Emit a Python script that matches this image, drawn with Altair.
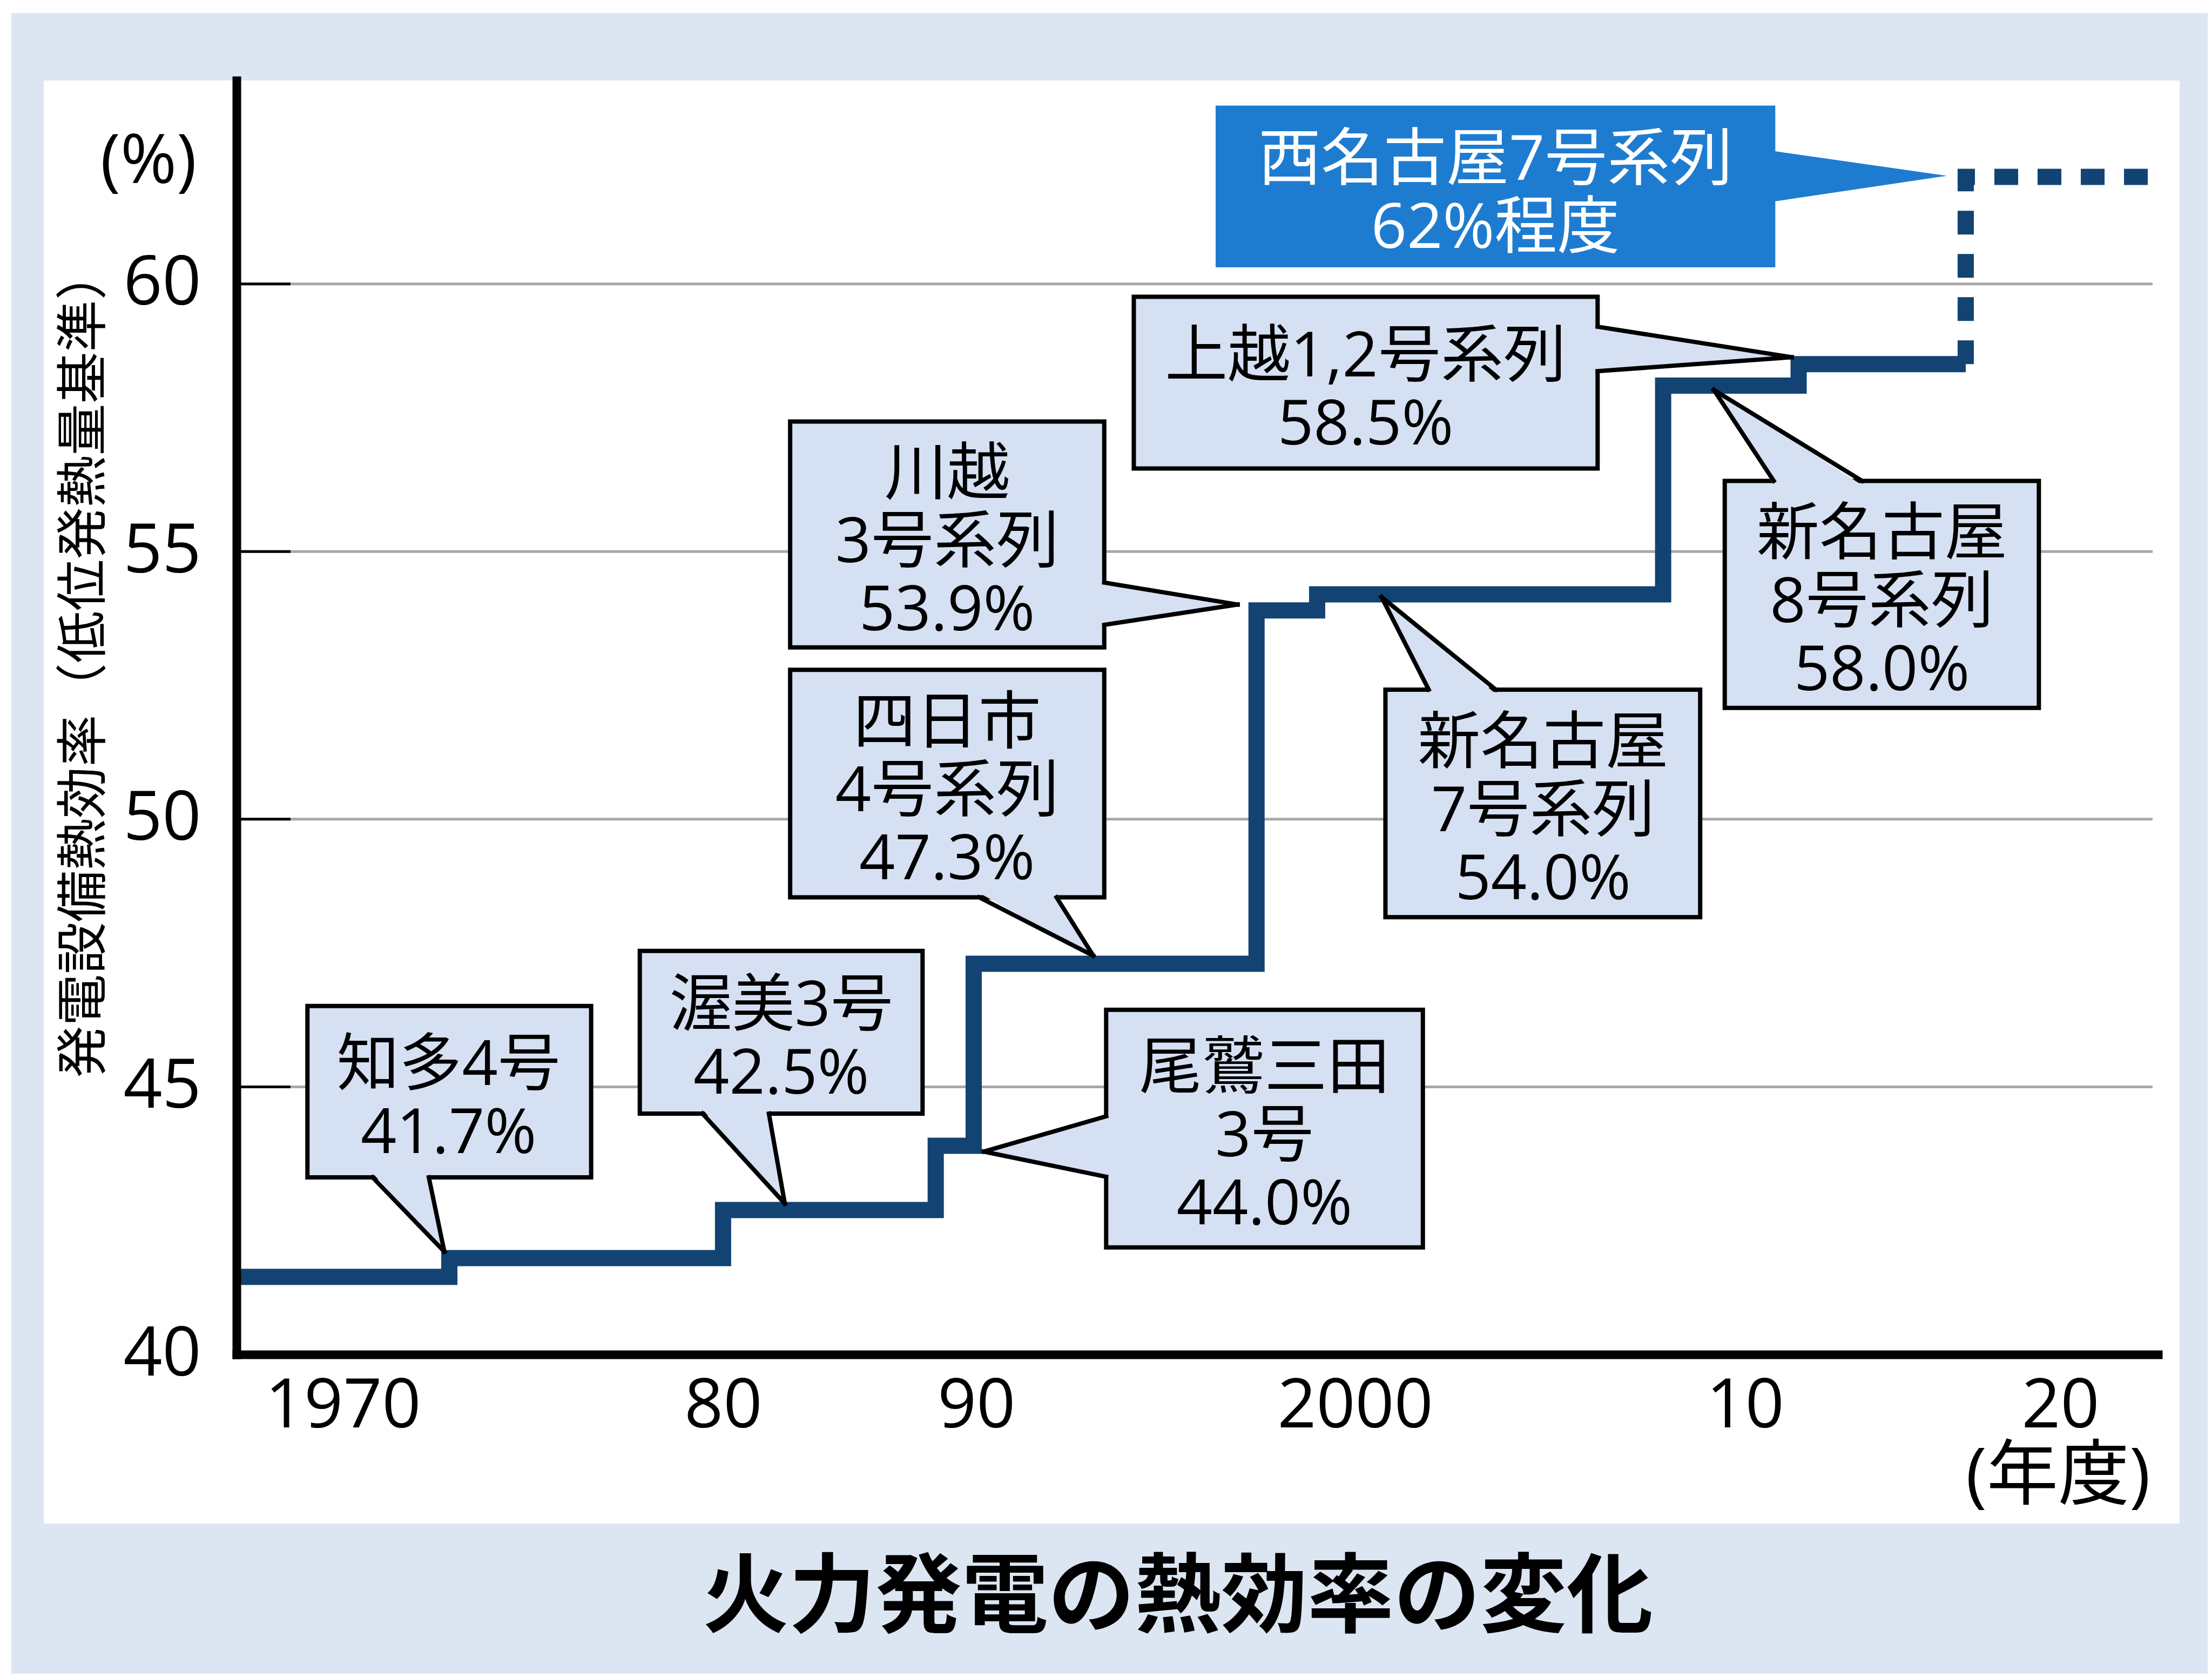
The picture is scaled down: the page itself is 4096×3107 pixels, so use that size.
import altair as alt
import pandas as pd

# ---------------- data ----------------
# solid step line: fiscal year of each step and thermal efficiency (%)
STEP_YEARS = [1967.0, 1972.8, 1980.0, 1988.4, 1989.9, 1997.4, 1999.0, 2007.9, 2011.7, 2017.0]
STEP_EFFICIENCY = [41.45, 41.8, 42.7, 43.9, 47.3, 53.9, 54.2, 58.1, 58.5, 58.5]
# planned (dotted) part
PLAN_YEARS = [2017.0, 2017.0, 2023.0]
PLAN_EFFICIENCY = [58.5, 62.0, 62.0]

PLANT_NAMES = [["知多4号"], ["渥美3号"], ["尾鷲三田", "3号"], ["四日市", "4号系列"],
               ["川越", "3号系列"], ["新名古屋", "7号系列"], ["新名古屋", "8号系列"],
               ["上越1,2号系列"]]
PLANT_EFFICIENCY = [41.7, 42.5, 44.0, 47.3, 53.9, 54.0, 58.0, 58.5]
TARGET_NAME = "西名古屋7号系列"
TARGET_EFFICIENCY = 62
TARGET_SUFFIX = "程度"

X_TICKS = [1970, 1980, 1990, 2000, 2010, 2020]
X_TICK_LABELS = ["1970", "80", "90", "2000", "10", "20"]
Y_TICKS = [40, 45, 50, 55, 60]
GRID_VALUES = [45, 50, 55, 60]

Y_TITLE = "発電設備熱効率（低位発熱量基準）"
Y_UNIT = "(%)"
X_UNIT = "(年度)"
TITLE = "火力発電の熱効率の変化"

# ---------------- callout layout (in year / % units) ----------------
BOXES = [
    (1969.00, 1976.53, 43.31, 46.51),
    (1977.81, 1987.88, 44.50, 47.54),
    (1993.43, 2001.74, 42.00, 46.44),
    (1982.65, 1993.38, 48.54, 52.79),
    (1982.65, 1993.38, 53.21, 57.43),
    (2000.78, 2008.85, 48.17, 52.42),
    (2009.48, 2019.32, 52.08, 56.32),
    (1994.16, 2006.22, 56.55, 59.76),
]
LABEL_X = [1972.78, 1982.30, 1997.61, 1988.85, 1988.85, 2004.82, 2014.34, 2000.27]
POINTERS = [
    ("bottom", 1970.78, 1972.26, 1972.67, 41.92),
    ("bottom", 1979.46, 1981.81, 1982.44, 42.82),
    ("left", 43.32, 44.45, 1990.20, 43.79),
    ("bottom", 1990.08, 1992.12, 1993.09, 47.45),
    ("right", 53.63, 54.42, 1996.90, 54.01),
    ("top", 2001.89, 2003.61, 2000.68, 54.15),
    ("top", 2010.91, 2013.71, 2009.20, 58.02),
    ("right", 58.37, 59.20, 2011.48, 58.63),
]
TARGET_BOX = (1996.32, 2010.96, 60.31, 63.33)
TARGET_LABEL_X = 2003.60
TARGET_POINTER = ("right", 61.53, 62.49, 2016.40, 62.02)

# ---------------- styles ----------------
NAVY = "#124372"
BOX_FILL = "#d6e0f3"
TARGET_BLUE = "#1e7cd0"
PANEL_BG = "#dce6f2"
GRID_GRAY = "#a8a8a8"
JP = "Noto Sans CJK JP"
MIX = "'Open Sans', 'Noto Sans CJK JP', sans-serif"
NUM = "Open Sans"
CALLOUT_SIZE = 116
LINE_H = 126
TEXT_DY = 16

W, H = 3558, 2359
PAD = {"left": 430, "top": 141, "right": 92, "bottom": 591}
IN_Y = 0.08   # % : how far pointer fill reaches into its box
IN_X = 0.15   # years

XSCALE = alt.Scale(domain=[1967, 1970, 1980, 1990, 2000, 2010, 2020, 2023],
                   range=[0, 196.9, 900.9, 1369.7, 2071.1, 2793.3, 3377.1, W],
                   nice=False, zero=False)
YSCALE = alt.Scale(domain=[40, 63.8], nice=False, zero=False)

label_expr = "''"
for v, lab in reversed(list(zip(X_TICKS, X_TICK_LABELS))):
    label_expr = f"datum.value == {v} ? '{lab}' : {label_expr}"

XAXIS = alt.Axis(values=X_TICKS, labelExpr=label_expr, title=None,
                 labelFont=NUM, labelFontSize=126, labelColor="black",
                 labelPadding=34, labelLimit=2000, ticks=False, tickSize=0,
                 domainColor="black", domainWidth=16, domainCap="square",
                 grid=False, zindex=1, labelFlush=False, labelOverlap=False)
YAXIS = alt.Axis(values=Y_TICKS, title=Y_TITLE, titleFont=JP, titleFontSize=96,
                 titleFontWeight="normal", titleColor="black", titleAngle=270,
                 titleX=-282, titleY=1078, titleAlign="center", titleBaseline="middle",
                 titleLimit=4000,
                 labelFont=NUM, labelFontSize=126, labelColor="black",
                 labelPadding=66, labelLimit=2000, ticks=False, tickSize=0,
                 domainColor="black", domainWidth=16, domainCap="square",
                 grid=False, zindex=1, labelOverlap=False)


def X(field, **kw):
    return alt.X(f"{field}:Q", scale=XSCALE, axis=XAXIS, **kw)


def Y(field, **kw):
    return alt.Y(f"{field}:Q", scale=YSCALE, axis=YAXIS, **kw)


# ---------------- tables built from the lists ----------------
step_df = pd.DataFrame({"year": STEP_YEARS, "eff": STEP_EFFICIENCY})
plan_df = pd.DataFrame({"year": PLAN_YEARS, "eff": PLAN_EFFICIENCY,
                        "i": list(range(len(PLAN_YEARS)))})
grid_df = pd.DataFrame({"v": GRID_VALUES})

box_rows, text_rows, rule_rows, area_h, area_v = [], [], [], [], []
for i, (names, eff) in enumerate(zip(PLANT_NAMES, PLANT_EFFICIENCY)):
    x0, x1, y0, y1 = BOXES[i]
    box_rows.append({"x0": x0, "x1": x1, "y0": y0, "y1": y1})
    lines = names + [f"{eff:.1f}%"]
    text_rows.append({"cx": LABEL_X[i], "cy": (y0 + y1) / 2,
                      "label": "\n".join(lines), "n": len(lines)})
    edge, b0, b1, tx, ty = POINTERS[i]
    if edge in ("bottom", "top"):
        by = y0 if edge == "bottom" else y1
        fy = by + IN_Y if edge == "bottom" else by - IN_Y
        for b in (b0, b1):
            rule_rows.append({"x": b, "y": by, "x2": tx, "y2": ty})
        area_h.append({"id": i, "y": fy, "x": b0, "x2": b1})
        area_h.append({"id": i, "y": ty, "x": tx, "x2": tx})
    else:
        bx = x0 if edge == "left" else x1
        fx = bx + IN_X if edge == "left" else bx - IN_X
        for b in (b0, b1):
            rule_rows.append({"x": bx, "y": b, "x2": tx, "y2": ty})
        area_v.append({"id": i, "x": fx, "y": b0, "y2": b1})
        area_v.append({"id": i, "x": tx, "y": ty, "y2": ty})

tx0, tx1, ty0, ty1 = TARGET_BOX
t_edge, tb0, tb1, ttx, tty = TARGET_POINTER
target_box_df = pd.DataFrame([{"x0": tx0, "x1": tx1, "y0": ty0, "y1": ty1}])
target_area_df = pd.DataFrame([{"id": 0, "x": tx1 - IN_X, "y": tb0, "y2": tb1},
                               {"id": 0, "x": ttx, "y": tty, "y2": tty}])
target_text_df = pd.DataFrame([{"cx": TARGET_LABEL_X, "cy": (ty0 + ty1) / 2,
                                "label": f"{TARGET_NAME}\n{TARGET_EFFICIENCY}%{TARGET_SUFFIX}"}])

one = pd.DataFrame({"k": [0]})

# ---------------- layers ----------------
bg = alt.Chart(one).mark_rect(color=PANEL_BG).encode(
    x=alt.value(-417), x2=alt.value(W + PAD["right"]),
    y=alt.value(-125), y2=alt.value(H + PAD["bottom"]))
panel = alt.Chart(one).mark_rect(color="white").encode(
    x=alt.value(-357), x2=alt.value(3598), y=alt.value(0), y2=alt.value(2672))

grid = alt.Chart(grid_df).mark_rule(color=GRID_GRAY, strokeWidth=5).encode(
    y=Y("v"), x=alt.value(0), x2=alt.value(3548))
ticks = alt.Chart(grid_df).mark_rule(color="black", strokeWidth=5).encode(
    y=Y("v"), x=alt.value(0), x2=alt.value(100))

step = alt.Chart(step_df).mark_line(
    interpolate="step-after", color=NAVY, strokeWidth=30,
    strokeJoin="miter", strokeCap="butt").encode(x=X("year"), y=Y("eff"))
plan = alt.Chart(plan_df).mark_line(
    color=NAVY, strokeWidth=30, strokeDash=[44, 36],
    strokeJoin="miter", strokeCap="butt").encode(
    x=X("year"), y=Y("eff"), order=alt.Order("i:Q"))

boxes = alt.Chart(pd.DataFrame(box_rows)).mark_rect(
    fill=BOX_FILL, stroke="black", strokeWidth=8).encode(
    x=X("x0"), x2=alt.X2("x1:Q"), y=Y("y0"), y2=alt.Y2("y1:Q"))
ptr_h = alt.Chart(pd.DataFrame(area_h)).mark_area(
    orient="horizontal", color=BOX_FILL, opacity=1).encode(
    y=Y("y", stack=None), x=X("x", stack=None), x2=alt.X2("x2:Q"), detail="id:N")
ptr_v = alt.Chart(pd.DataFrame(area_v)).mark_area(
    orient="vertical", color=BOX_FILL, opacity=1).encode(
    x=X("x"), y=Y("y", stack=None), y2=alt.Y2("y2:Q"), detail="id:N")
ptr_rules = alt.Chart(pd.DataFrame(rule_rows)).mark_rule(
    color="black", strokeWidth=8, strokeCap="square").encode(
    x=X("x"), y=Y("y"), x2=alt.X2("x2:Q"), y2=alt.Y2("y2:Q"))

t_box = alt.Chart(target_box_df).mark_rect(fill=TARGET_BLUE).encode(
    x=X("x0"), x2=alt.X2("x1:Q"), y=Y("y0"), y2=alt.Y2("y1:Q"))
t_ptr = alt.Chart(target_area_df).mark_area(
    orient="vertical", color=TARGET_BLUE, opacity=1).encode(
    x=X("x"), y=Y("y", stack=None), y2=alt.Y2("y2:Q"), detail="id:N")

text_df = pd.DataFrame(text_rows)
text_layers = []
for n in sorted(text_df["n"].unique()):
    text_layers.append(
        alt.Chart(text_df[text_df["n"] == n]).mark_text(
            font=MIX, fontSize=CALLOUT_SIZE, lineBreak="\n", lineHeight=LINE_H,
            align="center", baseline="middle",
            dy=TEXT_DY - (int(n) - 1) * LINE_H / 2, color="black").encode(
            x=X("cx"), y=Y("cy"), text="label:N"))
t_text = alt.Chart(target_text_df).mark_text(
    font=MIX, fontSize=CALLOUT_SIZE, lineBreak="\n", lineHeight=LINE_H,
    align="center", baseline="middle", dy=TEXT_DY - LINE_H / 2, color="white").encode(
    x=X("cx"), y=Y("cy"), text="label:N")

unit_y = alt.Chart(one).mark_text(
    font=NUM, fontSize=126, align="center", baseline="middle", color="black",
    text=Y_UNIT).encode(x=alt.value(-163), y=alt.value(152))
unit_x = alt.Chart(one).mark_text(
    font=MIX, fontSize=132, align="center", baseline="middle", color="black",
    text=X_UNIT).encode(x=alt.value(3373), y=alt.value(2586))
title = alt.Chart(one).mark_text(
    font=JP, fontSize=160, fontWeight="bold", align="center", baseline="middle",
    color="black", text=TITLE).encode(x=alt.value(1743), y=alt.value(2813))

chart = alt.layer(
    bg, panel, grid, ticks, step, plan, boxes, ptr_h, ptr_v, ptr_rules,
    t_box, t_ptr, *text_layers, t_text, unit_y, unit_x, title
).properties(
    width=W, height=H, padding=PAD,
    autosize=alt.AutoSizeParams(type="none"),
).configure(background="white").configure_view(stroke=None)

chart.save("out.html", embed_options={"renderer": "svg", "actions": False})
